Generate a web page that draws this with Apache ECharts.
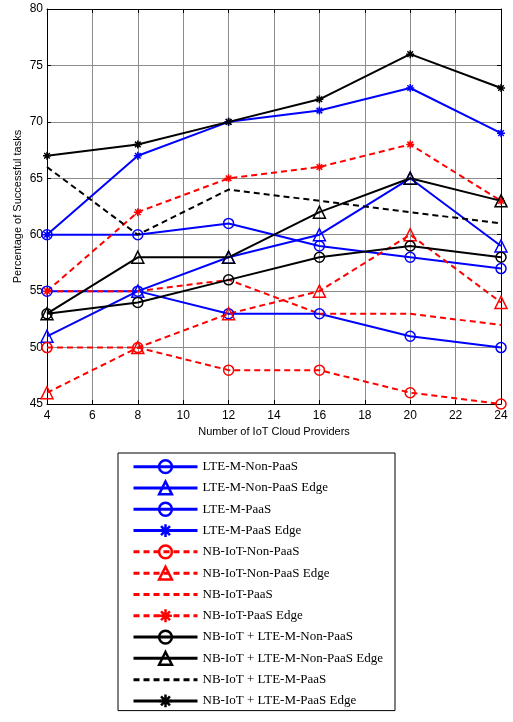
<!DOCTYPE html>
<html><head><meta charset="utf-8">
<script src="https://cdn.jsdelivr.net/npm/echarts@6/dist/echarts.min.js"></script>
<style>html,body{margin:0;padding:0;background:#fff}#c{width:513px;height:722px}</style>
</head><body><div id="c"></div>
<script>
const providers = [4, 8, 12, 16, 20, 24];
const lteNonPaas = [55, 55, 53, 53, 51, 50];
const lteNonPaasEdge = [51, 55, 58, 60, 65, 59];
const ltePaas = [60, 60, 61, 59, 58, 57];
const ltePaasEdge = [60, 67, 70, 71, 73, 69];
const nbNonPaas = [50, 50, 48, 48, 46, 45];
const nbNonPaasEdge = [46, 50, 53, 55, 60, 54];
const nbPaas = [55, 55, 56, 53, 53, 52];
const nbPaasEdge = [55, 62, 65, 66, 68, 63];
const mixNonPaas = [53, 54, 56, 58, 59, 58];
const mixNonPaasEdge = [53, 58, 58, 62, 65, 63];
const mixPaas = [66, 60, 64, 63, 62, 61];
const mixPaasEdge = [67, 68, 70, 72, 76, 73];

const STAR = 'path://M0,5H10M5,0V10M1.5,1.5L8.5,8.5M8.5,1.5L1.5,8.5';
const BLUE = '#0000ff', RED = '#ff0000', BLACK = '#000000';

function mk(name, vals, color, dashed, marker) {
  let symbol = 'circle', size = 0;
  if (marker === 'o') { symbol = 'circle'; size = 10; }
  else if (marker === '^') { symbol = 'triangle'; size = 12; }
  else if (marker === '*') { symbol = STAR; size = 8; }
  return {
    name: name, type: 'line',
    data: providers.map((x, i) => [x, vals[i]]),
    symbol: symbol, symbolSize: size,
    showSymbol: !!marker,
    lineStyle: { color: color, width: 2, type: dashed ? [6, 4] : 'solid' },
    itemStyle: { color: 'rgba(0,0,0,0)', borderColor: color, borderWidth: 1.5 },
    emphasis: { disabled: true },
    animation: false
  };
}

const series = [
  mk('LTE-M-Non-PaaS', lteNonPaas, BLUE, false, 'o'),
  mk('LTE-M-Non-PaaS Edge', lteNonPaasEdge, BLUE, false, '^'),
  mk('LTE-M-PaaS', ltePaas, BLUE, false, 'o'),
  mk('LTE-M-PaaS Edge', ltePaasEdge, BLUE, false, '*'),
  mk('NB-IoT-Non-PaaS', nbNonPaas, RED, true, 'o'),
  mk('NB-IoT-Non-PaaS Edge', nbNonPaasEdge, RED, true, '^'),
  mk('NB-IoT-PaaS', nbPaas, RED, true, null),
  mk('NB-IoT-PaaS Edge', nbPaasEdge, RED, true, '*'),
  mk('NB-IoT + LTE-M-Non-PaaS', mixNonPaas, BLACK, false, 'o'),
  mk('NB-IoT + LTE-M-Non-PaaS Edge', mixNonPaasEdge, BLACK, false, '^'),
  mk('NB-IoT + LTE-M-PaaS', mixPaas, BLACK, true, null),
  mk('NB-IoT + LTE-M-PaaS Edge', mixPaasEdge, BLACK, false, '*')
];
const noMarker = ['NB-IoT-PaaS', 'NB-IoT + LTE-M-PaaS'];

const axLabel = { color: '#000', fontFamily: 'Liberation Sans', fontSize: 12 };
const grid = { left: 47, right: 12, top: 9, bottom: 318 };
const chart = echarts.init(document.getElementById('c'), null, { renderer: 'canvas' });
chart.setOption({
  animation: false,
  backgroundColor: '#fff',
  grid: grid,
  xAxis: [{
    type: 'value', min: 4, max: 24, interval: 2, position: 'bottom',
    axisLine: { show: true, lineStyle: { color: '#000', width: 1 } },
    axisTick: { show: true, inside: true, length: 4, lineStyle: { color: '#000' } },
    axisLabel: Object.assign({ margin: 6 }, axLabel),
    splitLine: { show: true, lineStyle: { color: '#8c8c8c', width: 1 } },
    name: 'Number of IoT Cloud Providers', nameLocation: 'middle', nameGap: 22,
    nameMoveOverlap: false,
    nameTextStyle: { color: '#000', fontFamily: 'Liberation Sans', fontSize: 11 }
  }, {
    type: 'value', min: 4, max: 24, interval: 2, position: 'top',
    axisLine: { show: true, onZero: false, lineStyle: { color: '#000', width: 1 } },
    axisTick: { show: true, inside: true, length: 4, lineStyle: { color: '#000' } },
    axisLabel: { show: false }, splitLine: { show: false }
  }],
  yAxis: [{
    type: 'value', min: 45, max: 80, interval: 5, position: 'left',
    axisLine: { show: true, onZero: false, lineStyle: { color: '#000', width: 1 } },
    axisTick: { show: true, inside: true, length: 4, lineStyle: { color: '#000' } },
    axisLabel: Object.assign({ margin: 4 }, axLabel),
    splitLine: { show: true, lineStyle: { color: '#8c8c8c', width: 1 } },
    name: 'Percentage of Successful tasks', nameLocation: 'middle', nameGap: 24,
    nameMoveOverlap: false,
    nameTextStyle: { color: '#000', fontFamily: 'Liberation Sans', fontSize: 11 }
  }, {
    type: 'value', min: 45, max: 80, interval: 5, position: 'right',
    axisLine: { show: true, onZero: false, lineStyle: { color: '#000', width: 1 } },
    axisTick: { show: true, inside: true, length: 4, lineStyle: { color: '#000' } },
    axisLabel: { show: false }, splitLine: { show: false }
  }],
  legend: {
    orient: 'vertical', left: 118, top: 453,
    padding: [6, 12, 2, 14],
    itemWidth: 64, itemHeight: 16, itemGap: 6,
    borderColor: '#000', borderWidth: 1, backgroundColor: '#fff',
    lineStyle: { width: 3 },
    itemStyle: { borderWidth: 2.5 },
    textStyle: { color: '#000', fontFamily: 'Liberation Serif', fontSize: 13 },
    selectedMode: false,
    data: series.map(s => noMarker.indexOf(s.name) >= 0
      ? { name: s.name, itemStyle: { opacity: 0 } }
      : { name: s.name })
  },
  series: series
});
</script></body></html>
